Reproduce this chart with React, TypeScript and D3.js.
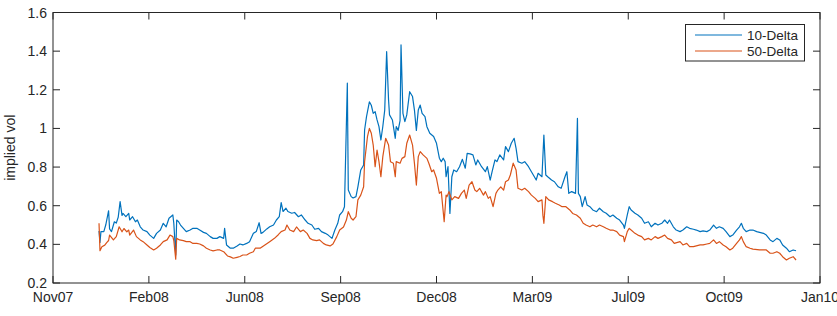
import React from "react";
import * as d3 from "d3";

// x values are MATLAB-style day numbers counted from the first x tick (datenum 733358)
const xTickDays = [0, 100, 200, 300, 400, 500, 600, 700, 800];
const xTickLabels = ["Nov07", "Feb08", "Jun08", "Sep08", "Dec08", "Mar09", "Jul09", "Oct09", "Jan10"];
const yTicks = [0.2, 0.4, 0.6, 0.8, 1.0, 1.2, 1.4, 1.6];
const yTickLabels = ["0.2", "0.4", "0.6", "0.8", "1", "1.2", "1.4", "1.6"];
const seriesNames = ["10-Delta", "50-Delta"];

const blueDays = [
  48, 49, 50, 53, 55, 58, 59, 61, 64, 66,
  68, 70, 72, 73, 76, 79, 80, 83, 86, 88,
  91, 94, 98, 101, 105, 108, 112, 115, 118, 121,
  125, 126, 128, 129, 131, 133, 136, 139, 143, 146,
  150, 153, 157, 160, 164, 167, 171, 174, 178, 179,
  181, 185, 188, 192, 195, 198, 202, 205, 209, 212,
  215, 217, 219, 223, 226, 230, 233, 236, 238, 240,
  243, 245, 249, 252, 256, 259, 263, 266, 270, 273,
  277, 280, 284, 287, 291, 294, 297, 299, 302, 304,
  307, 308, 311, 313, 316, 318, 321, 324, 325, 327,
  330, 332, 334, 336, 338, 340, 342, 344, 346, 348,
  350, 351, 354, 357, 358, 360, 362, 363, 365, 367,
  369, 372, 375, 377, 379, 381, 383, 385, 388, 390,
  393, 397, 400, 403, 405, 407, 409, 410, 412, 414,
  416, 418, 421, 424, 427, 430, 432, 435, 438, 441,
  443, 447, 451, 453, 456, 458, 461, 463, 466, 470,
  472, 475, 478, 481, 483, 485, 489, 492, 496, 499,
  501, 504, 506, 510, 512, 514, 516, 520, 523, 527,
  530, 534, 536, 538, 541, 545, 547, 548, 550, 552,
  555, 557, 560, 563, 567, 570, 574, 577, 581, 584,
  588, 591, 595, 596, 599, 601, 603, 607, 610, 614,
  617, 621, 624, 628, 631, 635, 638, 641, 643, 647,
  650, 654, 657, 661, 664, 668, 671, 675, 678, 682,
  685, 689, 692, 695, 699, 702, 706, 709, 713, 716,
  718, 720, 723, 727, 730, 734, 737, 741, 744, 748,
  751, 755, 758, 761, 765, 768, 772, 775,
];
const blueVol = [
  0.47, 0.41, 0.466, 0.466, 0.5, 0.574, 0.48, 0.466, 0.517, 0.51,
  0.54, 0.621, 0.55, 0.56, 0.543, 0.56, 0.526, 0.543, 0.517, 0.526,
  0.491, 0.474, 0.466, 0.448, 0.431, 0.457, 0.474, 0.509, 0.491, 0.535,
  0.552, 0.509, 0.345, 0.526, 0.517, 0.5, 0.483, 0.466, 0.474, 0.483,
  0.483, 0.474, 0.462, 0.457, 0.44, 0.431, 0.431, 0.44, 0.431, 0.483,
  0.397, 0.38, 0.38, 0.392, 0.402, 0.397, 0.405, 0.414, 0.457, 0.466,
  0.512, 0.457, 0.462, 0.48, 0.491, 0.5, 0.526, 0.543, 0.616, 0.57,
  0.587, 0.57, 0.561, 0.565, 0.543, 0.552, 0.526, 0.509, 0.5, 0.478,
  0.483, 0.466, 0.457, 0.448, 0.431, 0.474, 0.509, 0.552, 0.569, 0.595,
  1.234, 0.681, 0.647, 0.64, 0.647, 0.698, 0.785, 0.811, 0.992, 1.061,
  1.138, 1.12, 1.078, 1.087, 1.044, 1.009, 0.94, 1.01, 1.095, 1.397,
  1.147, 1.07, 1.044, 0.949, 1.01, 0.99, 1.04, 1.432, 1.078, 1.035,
  1.07, 1.19, 1.165, 1.095, 0.99, 1.095, 1.121, 1.078, 1.061, 1.009,
  0.975, 0.958, 0.923, 0.846, 0.828, 0.846, 0.828, 0.75, 0.802, 0.56,
  0.75, 0.785, 0.776, 0.802, 0.84, 0.794, 0.871, 0.868, 0.863, 0.811,
  0.837, 0.802, 0.776, 0.802, 0.733, 0.776, 0.837, 0.828, 0.863, 0.837,
  0.906, 0.88, 0.923, 0.949, 0.897, 0.828, 0.82, 0.828, 0.802, 0.776,
  0.759, 0.733, 0.768, 0.75, 0.966, 0.759, 0.75, 0.733, 0.724, 0.698,
  0.69, 0.75, 0.776, 0.664, 0.673, 0.664, 1.052, 0.664, 0.647, 0.595,
  0.647, 0.604, 0.595, 0.578, 0.569, 0.587, 0.569, 0.561, 0.543, 0.552,
  0.535, 0.526, 0.5, 0.483, 0.552, 0.595, 0.578, 0.561, 0.552, 0.535,
  0.509, 0.517, 0.491, 0.509, 0.5, 0.509, 0.526, 0.509, 0.526, 0.491,
  0.474, 0.466, 0.474, 0.491, 0.483, 0.478, 0.474, 0.466, 0.47, 0.466,
  0.474, 0.5, 0.483, 0.491, 0.483, 0.466, 0.44, 0.448, 0.474, 0.491,
  0.509, 0.483, 0.466, 0.474, 0.474, 0.466, 0.462, 0.457, 0.448, 0.423,
  0.414, 0.431, 0.423, 0.397, 0.38, 0.362, 0.371, 0.367,
];

const orangeDays = [
  48, 49, 51, 54, 56, 58, 59, 63, 66, 69,
  72, 74, 77, 79, 80, 84, 87, 91, 94, 98,
  101, 105, 108, 112, 115, 119, 122, 125, 126, 128,
  129, 132, 136, 139, 143, 146, 150, 153, 157, 160,
  164, 167, 171, 174, 178, 182, 185, 188, 192, 195,
  198, 202, 205, 209, 211, 216, 221, 226, 231, 235,
  238, 242, 244, 247, 251, 254, 258, 261, 265, 268,
  271, 275, 278, 282, 285, 289, 292, 296, 299, 303,
  306, 308, 311, 313, 316, 318, 321, 324, 325, 328,
  330, 332, 334, 336, 338, 340, 342, 344, 347, 350,
  352, 355, 357, 358, 362, 364, 367, 369, 372, 375,
  377, 379, 381, 383, 386, 390, 392, 395, 397, 400,
  403, 405, 408, 410, 411, 413, 416, 419, 423, 426,
  429, 431, 434, 437, 440, 442, 445, 449, 451, 454,
  456, 459, 462, 464, 467, 470, 472, 475, 477, 480,
  483, 485, 489, 492, 496, 499, 503, 506, 510, 511,
  512, 514, 517, 521, 524, 528, 531, 535, 539, 542,
  546, 550, 553, 556, 560, 563, 567, 570, 574, 577,
  581, 584, 588, 591, 595, 596, 599, 601, 603, 607,
  610, 614, 617, 621, 624, 628, 631, 635, 638, 641,
  645, 648, 654, 657, 661, 664, 668, 671, 675, 678,
  682, 685, 689, 692, 695, 699, 702, 706, 709, 713,
  716, 718, 720, 723, 727, 730, 737, 744, 748, 751,
  755, 758, 761, 765, 768, 772, 775,
];
const orangeVol = [
  0.509, 0.367, 0.388, 0.396, 0.409, 0.42, 0.448, 0.423, 0.44, 0.491,
  0.465, 0.482, 0.465, 0.474, 0.448, 0.474, 0.44, 0.423, 0.414, 0.397,
  0.384, 0.371, 0.38, 0.397, 0.414, 0.423, 0.448, 0.44, 0.42, 0.323,
  0.431, 0.423, 0.419, 0.414, 0.414, 0.405, 0.405, 0.402, 0.392, 0.38,
  0.371, 0.366, 0.371, 0.371, 0.362, 0.34, 0.335, 0.328, 0.333, 0.337,
  0.345, 0.345, 0.354, 0.362, 0.38, 0.38, 0.397, 0.414, 0.431, 0.45,
  0.466, 0.474, 0.5, 0.474, 0.466, 0.49, 0.466, 0.474, 0.457, 0.431,
  0.423, 0.419, 0.423, 0.405, 0.397, 0.392, 0.402, 0.44, 0.474, 0.49,
  0.526, 0.569, 0.535, 0.526, 0.543, 0.63, 0.655, 0.698, 0.828, 0.957,
  1.0, 0.975, 0.914, 0.802, 0.888, 0.828, 0.75, 0.854, 0.949, 0.914,
  0.828, 0.82, 0.75, 0.828, 0.82, 0.845, 0.854, 0.923, 0.966, 0.914,
  0.819, 0.707, 0.854, 0.88, 0.863, 0.845, 0.82, 0.776, 0.785, 0.742,
  0.664, 0.673, 0.517, 0.655, 0.647, 0.673, 0.63, 0.647, 0.638, 0.664,
  0.681, 0.638, 0.707, 0.724, 0.681, 0.673, 0.69, 0.655, 0.673, 0.638,
  0.647, 0.595, 0.664, 0.681, 0.698, 0.681, 0.724, 0.733, 0.759, 0.82,
  0.785, 0.69, 0.681, 0.69, 0.673, 0.655, 0.638, 0.621, 0.63, 0.55,
  0.509, 0.647, 0.63, 0.621, 0.613, 0.604, 0.595, 0.595, 0.578, 0.56,
  0.552, 0.535, 0.509, 0.5, 0.491, 0.5, 0.491, 0.5, 0.491, 0.483,
  0.474, 0.474, 0.466, 0.448, 0.44, 0.414, 0.466, 0.483, 0.474, 0.457,
  0.448, 0.44, 0.423, 0.431, 0.423, 0.44, 0.431, 0.44, 0.448, 0.431,
  0.423, 0.405, 0.414, 0.397, 0.405, 0.388, 0.388, 0.392, 0.397, 0.397,
  0.402, 0.405, 0.423, 0.405, 0.414, 0.397, 0.388, 0.371, 0.38, 0.405,
  0.423, 0.44, 0.414, 0.388, 0.38, 0.375, 0.371, 0.371, 0.354, 0.354,
  0.362, 0.354, 0.336, 0.319, 0.328, 0.336, 0.319,
];

const W = 837;
const H = 316;
const M = { left: 53, right: 820, top: 12.5, bottom: 283 };
const FONT = "'Liberation Sans', Arial, Helvetica, sans-serif";
const AXIS = "#262626";
const BLUE = "#0072BD";
const ORANGE = "#D95319";

export default function App() {
  const x = d3.scaleLinear().domain([0, 800]).range([M.left, M.right]);
  const y = d3.scaleLinear().domain([0.2, 1.6]).range([M.bottom, M.top]);
  const line = d3
    .line<[number, number]>()
    .x((d) => x(d[0]))
    .y((d) => y(d[1]));
  const blue: [number, number][] = blueDays.map((d, i) => [d, blueVol[i]]);
  const orange: [number, number][] = orangeDays.map((d, i) => [d, orangeVol[i]]);
  const tick = 7;
  const fs = 14;

  return (
    <svg
      width={W}
      height={H}
      style={{ position: "absolute", left: 0, top: 0, background: "#fff" }}
      fontFamily={FONT}
    >
      <rect x={0} y={0} width={W} height={H} fill="#fff" />
      <path d={line(blue) || ""} fill="none" stroke={BLUE} strokeWidth={1.2} strokeLinejoin="round" />
      <path d={line(orange) || ""} fill="none" stroke={ORANGE} strokeWidth={1.2} strokeLinejoin="round" />

      <rect
        x={M.left}
        y={M.top}
        width={M.right - M.left}
        height={M.bottom - M.top}
        fill="none"
        stroke={AXIS}
        strokeWidth={1}
      />
      {xTickDays.map((d, i) => (
        <g key={"xt" + i}>
          <line x1={x(d)} x2={x(d)} y1={M.bottom} y2={M.bottom - tick} stroke={AXIS} />
          <line x1={x(d)} x2={x(d)} y1={M.top} y2={M.top + tick} stroke={AXIS} />
          <text x={x(d)} y={301.5} textAnchor="middle" fontSize={fs} fill={AXIS}>
            {xTickLabels[i]}
          </text>
        </g>
      ))}
      {yTicks.map((v, i) => (
        <g key={"yt" + i}>
          <line x1={M.left} x2={M.left + tick} y1={y(v)} y2={y(v)} stroke={AXIS} />
          <line x1={M.right} x2={M.right - tick} y1={y(v)} y2={y(v)} stroke={AXIS} />
          <text x={47} y={y(v) + 5} textAnchor="end" fontSize={fs} fill={AXIS}>
            {yTickLabels[i]}
          </text>
        </g>
      ))}
      <text
        transform={`translate(15, ${(M.top + M.bottom) / 2}) rotate(-90)`}
        textAnchor="middle"
        fontSize={fs}
        fill={AXIS}
      >
        implied vol
      </text>

      <rect x={685.5} y={24.5} width={119} height={36.5} fill="#fff" stroke={AXIS} strokeWidth={1} />
      {seriesNames.map((name, i) => (
        <g key={"lg" + i}>
          <line
            x1={695}
            x2={742}
            y1={35 + i * 16}
            y2={35 + i * 16}
            stroke={i === 0 ? BLUE : ORANGE}
            strokeWidth={1.2}
          />
          <text x={747} y={35 + i * 16 + 4.8} fontSize={13.5} fill={AXIS}>
            {name}
          </text>
        </g>
      ))}
    </svg>
  );
}
